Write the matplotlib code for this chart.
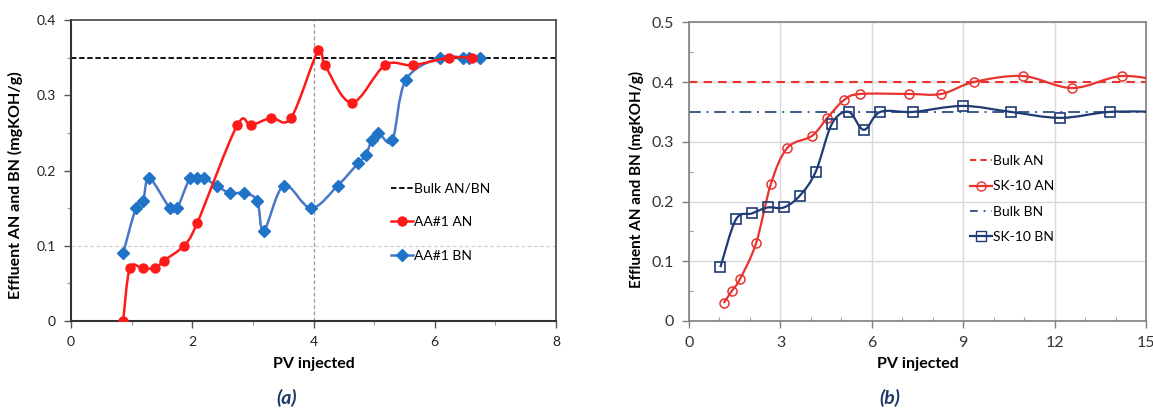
import numpy as np
import matplotlib
matplotlib.use("Agg")
import matplotlib.pyplot as plt
from matplotlib.path import Path
from matplotlib.patches import PathPatch
from matplotlib.lines import Line2D
from matplotlib.ticker import MultipleLocator, FormatStrFormatter

plt.rcParams['font.family'] = ['Lato', 'DejaVu Sans']

# ---------------- data: panel (a) ----------------
a_an_x = [0.86, 0.97, 1.18, 1.39, 1.53, 1.86, 2.08, 2.74, 2.97, 3.30, 3.63, 4.08, 4.19, 4.63,
          5.18, 5.64, 6.24, 6.61]
a_an_y = [0.00, 0.07, 0.07, 0.07, 0.08, 0.10, 0.13, 0.26, 0.26, 0.27, 0.27, 0.36, 0.34, 0.29,
          0.34, 0.34, 0.35, 0.35]
a_bn_x = [0.86, 1.07, 1.19, 1.29, 1.63, 1.75, 1.96, 2.07, 2.19, 2.40, 2.62, 2.85, 3.07, 3.18,
          3.51, 3.96, 4.40, 4.74, 4.86, 4.96, 5.07, 5.30, 5.52, 6.08, 6.46, 6.56, 6.75]
a_bn_y = [0.09, 0.15, 0.16, 0.19, 0.15, 0.15, 0.19, 0.19, 0.19, 0.18, 0.17, 0.17, 0.16, 0.12,
          0.18, 0.15, 0.18, 0.21, 0.22, 0.24, 0.25, 0.24, 0.32, 0.35, 0.35, 0.35, 0.35]
a_bulk = 0.35
a_labels = ["Bulk AN/BN", "AA#1 AN", "AA#1 BN"]

# ---------------- data: panel (b) ----------------
b_an_x = [1.14, 1.40, 1.67, 2.20, 2.69, 3.23, 4.04, 4.54, 5.09, 5.62, 7.22, 8.28, 9.35,
          10.96, 12.58, 14.20, 15.70]
b_an_y = [0.03, 0.05, 0.07, 0.13, 0.23, 0.29, 0.31, 0.34, 0.37, 0.38, 0.38, 0.38, 0.40,
          0.41, 0.39, 0.41, 0.40]
b_bn_x = [1.03, 1.54, 2.06, 2.58, 3.11, 3.64, 4.16, 4.69, 5.24, 5.74, 6.28, 7.36, 8.98,
          10.56, 12.19, 13.82, 15.70]
b_bn_y = [0.09, 0.17, 0.18, 0.19, 0.19, 0.21, 0.25, 0.33, 0.35, 0.32, 0.35, 0.35, 0.36,
          0.35, 0.34, 0.35, 0.35]
b_bulk_an = 0.40
b_bulk_bn = 0.35
b_labels = ["Bulk AN", "SK-10 AN", "Bulk BN", "SK-10 BN"]

ylabel = "Effluent AN and BN (mgKOH/g)"
xlabel = "PV injected"


def smooth_path(x, y):
    pts = np.column_stack([x, y]).astype(float)
    n = len(pts)
    verts = [pts[0]]
    codes = [Path.MOVETO]
    for i in range(n - 1):
        p0 = pts[i - 1] if i > 0 else pts[i]
        p1 = pts[i]
        p2 = pts[i + 1]
        p3 = pts[i + 2] if i + 2 < n else pts[i + 1]
        verts += [p1 + (p2 - p0) / 6.0, p2 - (p3 - p1) / 6.0, p2]
        codes += [Path.CURVE4] * 3
    return Path(verts, codes)


fig = plt.figure(figsize=(11.53, 4.09), dpi=100)

# ================= panel (a) =================
axa = fig.add_axes([0.0616, 0.2152, 0.4206, 0.7358])
axa.set_xlim(0, 8)
axa.set_ylim(0, 0.4)
axa.xaxis.set_major_locator(MultipleLocator(2))
axa.xaxis.set_minor_locator(MultipleLocator(1))
axa.yaxis.set_major_locator(MultipleLocator(0.1))
axa.yaxis.set_minor_locator(MultipleLocator(0.05))
axa.yaxis.set_major_formatter(FormatStrFormatter('%g'))
axa.axvline(4, color='#9a9a9a', lw=0.9, ls=(0, (3, 2)), zorder=1)
axa.axhline(0.1, color='#d0d0d0', lw=0.9, ls=(0, (3, 2)), zorder=1)
axa.axhline(a_bulk, color='black', lw=1.3, ls=(0, (3, 1.5)), zorder=2)

red_a = '#ff1a1a'
blue_line = '#4a78c6'
blue_mk = '#1f74c8'
axa.add_patch(PathPatch(smooth_path(a_bn_x, a_bn_y), fc='none', ec=blue_line, lw=1.8, zorder=3))
axa.plot(a_bn_x, a_bn_y, ls='none', marker='D', ms=6.2, color=blue_mk, mec=blue_mk, zorder=4)
axa.add_patch(PathPatch(smooth_path(a_an_x, a_an_y), fc='none', ec=red_a, lw=1.8, zorder=5))
axa.plot(a_an_x, a_an_y, ls='none', marker='o', ms=6.5, color=red_a, zorder=6)

for s in ['left', 'bottom']:
    axa.spines[s].set_color('#333333')
    axa.spines[s].set_linewidth(1.5)
for s in ['top', 'right']:
    axa.spines[s].set_color('#444444')
    axa.spines[s].set_linewidth(1.2)
axa.tick_params(which='major', direction='out', length=5, width=1, color='#555555',
                labelsize=10, labelcolor='#222222', pad=6)
axa.tick_params(which='minor', direction='out', length=3, width=0.8, color='#999999')
axa.set_ylabel(ylabel, fontsize=11.5, fontweight='bold')
axa.yaxis.set_label_coords(-0.098, 0.45)
axa.set_xlabel(xlabel, fontsize=11.5, fontweight='bold', labelpad=6)

handles_a = [
    Line2D([], [], color='black', lw=1.3, ls=(0, (3, 1.5))),
    Line2D([], [], color=red_a, lw=1.8, marker='o', ms=6.5),
    Line2D([], [], color=blue_line, lw=1.8, marker='D', ms=6.2, mfc=blue_mk, mec=blue_mk),
]
axa.legend(handles_a, a_labels, loc='upper left', bbox_to_anchor=(0.66, 0.46), frameon=False,
           fontsize=10, handlelength=1.6, handletextpad=0.05, labelspacing=1.55,
           borderpad=0, borderaxespad=0)
fig.text(0.249, 0.012, "(a)", fontsize=14, fontweight='bold', style='italic', color='#1f3864',
         ha='center')

# ================= panel (b) =================
axb = fig.add_axes([0.5976, 0.2152, 0.3963, 0.7303])
axb.set_xlim(0, 15)
axb.set_ylim(0, 0.5)
axb.xaxis.set_major_locator(MultipleLocator(3))
axb.xaxis.set_minor_locator(MultipleLocator(1))
axb.yaxis.set_major_locator(MultipleLocator(0.1))
axb.yaxis.set_minor_locator(MultipleLocator(0.05))
axb.yaxis.set_major_formatter(FormatStrFormatter('%g'))
axb.grid(True, which='major', color='#d9d9d9', lw=1.0)
axb.set_axisbelow(True)

red_b = '#e8332f'
navy = '#1f3b74'
axb.axhline(b_bulk_an, color=red_b, lw=1.5, ls=(0, (4, 3)), zorder=2)
axb.axhline(b_bulk_bn, color='#3c5a8c', lw=1.4, ls=(0, (6, 3, 1, 3)), zorder=2)
axb.add_patch(PathPatch(smooth_path(b_an_x, b_an_y), fc='none', ec=red_b, lw=1.6, zorder=3))
axb.plot(b_an_x, b_an_y, ls='none', marker='o', ms=6.5, mfc='none', mec=red_b, mew=1.1, zorder=4)
axb.add_patch(PathPatch(smooth_path(b_bn_x, b_bn_y), fc='none', ec=navy, lw=1.6, zorder=5))
axb.plot(b_bn_x, b_bn_y, ls='none', marker='s', ms=7, mfc='none', mec=navy, mew=1.2, zorder=6)

for s in axb.spines.values():
    s.set_color('#7f7f7f')
    s.set_linewidth(1.2)
axb.tick_params(which='major', direction='out', length=5, width=1, color='#7f7f7f',
                labelsize=11.5, labelcolor='#333333', pad=6)
axb.tick_params(which='minor', direction='in', length=3, width=0.8, color='#9f9f9f')
axb.set_ylabel(ylabel, fontsize=11, fontweight='bold')
axb.yaxis.set_label_coords(-0.098, 0.475)
axb.set_xlabel(xlabel, fontsize=11.5, fontweight='bold', labelpad=5)

handles_b = [
    Line2D([], [], color=red_b, lw=1.5, ls=(0, (3, 2))),
    Line2D([], [], color=red_b, lw=1.6, marker='o', ms=6.5, mfc='none', mec=red_b),
    Line2D([], [], color='#3c5a8c', lw=1.4, ls=(0, (4, 3, 1, 3))),
    Line2D([], [], color=navy, lw=1.6, marker='s', ms=7, mfc='none', mec=navy),
]
axb.legend(handles_b, b_labels, loc='upper left', bbox_to_anchor=(0.615, 0.555), frameon=False,
           fontsize=10, handlelength=1.6, handletextpad=0.05, labelspacing=0.95,
           borderpad=0, borderaxespad=0)
fig.text(0.772, 0.012, "(b)", fontsize=14, fontweight='bold', style='italic', color='#1f3864',
         ha='center')

fig.savefig("out.png", dpi=100)
